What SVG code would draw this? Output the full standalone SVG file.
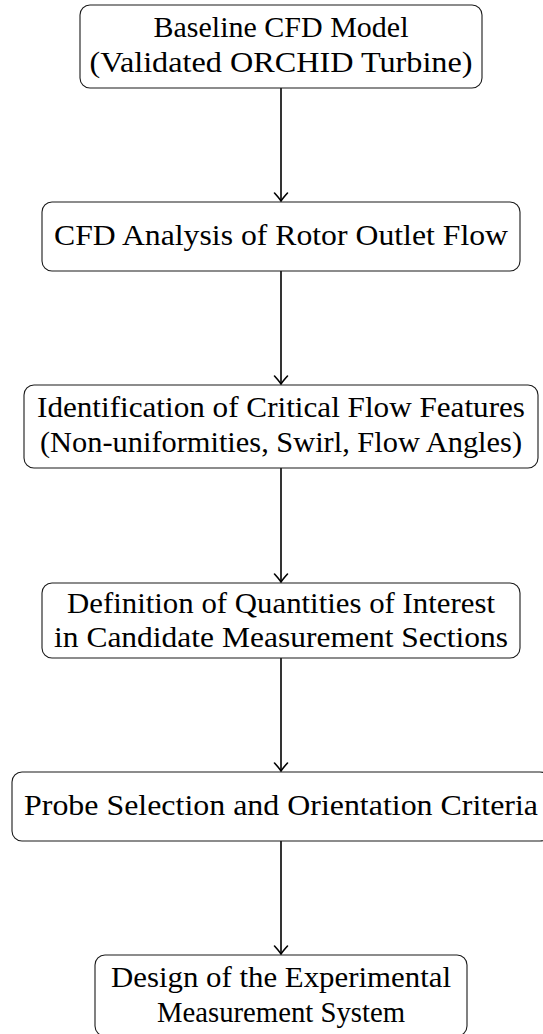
<svg xmlns="http://www.w3.org/2000/svg" width="543" height="1034" viewBox="0 0 543 1034">
<style>
.box{fill:#fff;stroke:#1a1a1a;stroke-width:1.1}
.t{font-family:'Liberation Serif','Times New Roman',serif;font-size:29px;fill:#000;text-anchor:middle}
.c{stroke:#000;stroke-width:1.6;fill:none}
</style>
<defs>
<marker id="arr" markerUnits="userSpaceOnUse" orient="auto" refX="0" refY="0" markerWidth="20" markerHeight="20" viewBox="-10 -10 20 20" overflow="visible">
<path d="M -8 -6.5 Q -2.5 -1.5 0 0 Q -2.5 1.5 -8 6.5" fill="none" stroke="#000" stroke-width="1.6" stroke-linecap="round"/>
</marker>
</defs>
<rect width="543" height="1034" fill="#fff"/>
<g id="connectors">
<line class="c" x1="281" y1="88" x2="281" y2="201" marker-end="url(#arr)"/>
<line class="c" x1="281" y1="271" x2="281" y2="384" marker-end="url(#arr)"/>
<line class="c" x1="281" y1="468" x2="281" y2="582" marker-end="url(#arr)"/>
<line class="c" x1="281" y1="658" x2="281" y2="771" marker-end="url(#arr)"/>
<line class="c" x1="281" y1="841" x2="281" y2="954" marker-end="url(#arr)"/>
</g>
<g font-family="Liberation Serif, serif">
<g id="n1">
<rect class="box" x="80" y="5" width="402" height="83" rx="10"/>
<text class="t" x="281" y="37" textLength="255" lengthAdjust="spacingAndGlyphs">Baseline CFD Model</text>
<text class="t" x="281" y="72" textLength="383" lengthAdjust="spacingAndGlyphs">(Validated ORCHID Turbine)</text>
</g>
<g id="n2">
<rect class="box" x="42" y="202" width="478" height="69" rx="10"/>
<text class="t" x="281" y="245" textLength="454" lengthAdjust="spacingAndGlyphs">CFD Analysis of Rotor Outlet Flow</text>
</g>
<g id="n3">
<rect class="box" x="24" y="385" width="514" height="83" rx="10"/>
<text class="t" x="281" y="417" textLength="488" lengthAdjust="spacingAndGlyphs">Identification of Critical Flow Features</text>
<text class="t" x="281" y="452" textLength="482" lengthAdjust="spacingAndGlyphs">(Non-uniformities, Swirl, Flow Angles)</text>
</g>
<g id="n4">
<rect class="box" x="42" y="583" width="478" height="75" rx="10"/>
<text class="t" x="281" y="613" textLength="428" lengthAdjust="spacingAndGlyphs">Definition of Quantities of Interest</text>
<text class="t" x="281" y="647" textLength="454" lengthAdjust="spacingAndGlyphs">in Candidate Measurement Sections</text>
</g>
<g id="n5">
<rect class="box" x="12" y="772" width="538" height="69" rx="10"/>
<text class="t" x="281" y="815" textLength="514" lengthAdjust="spacingAndGlyphs">Probe Selection and Orientation Criteria</text>
</g>
<g id="n6">
<rect class="box" x="95" y="955" width="372" height="81" rx="10"/>
<text class="t" x="281" y="987" textLength="340" lengthAdjust="spacingAndGlyphs">Design of the Experimental</text>
<text class="t" x="281" y="1022" textLength="248" lengthAdjust="spacingAndGlyphs">Measurement System</text>
</g>
</g>
</svg>
